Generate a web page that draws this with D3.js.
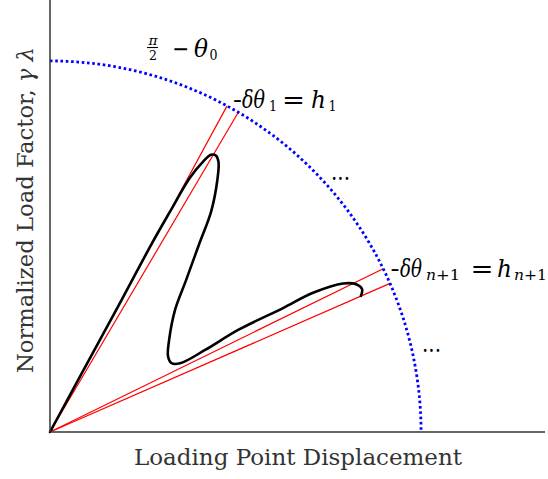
<!DOCTYPE html>
<html>
<head>
<meta charset="utf-8">
<script src="https://cdn.jsdelivr.net/npm/d3@7"></script>
<style>
  html, body { margin: 0; padding: 0; background: #fff; }
  svg { display: block; }
  text { font-family: "DejaVu Serif", "Liberation Serif", serif; }
</style>
</head>
<body>
<svg id="chart" width="548" height="479"></svg>
<script>
// ---- data (unit: radius of the arc = 1) ----
const pathU = [0, 0.092, 0.184, 0.275, 0.323, 0.377, 0.412, 0.434, 0.447, 0.454, 0.451, 0.434, 0.404, 0.367, 0.337, 0.321, 0.318, 0.327, 0.350, 0.418, 0.507, 0.628, 0.709, 0.790, 0.825, 0.841, 0.838];
const pathV = [0, 0.170, 0.339, 0.509, 0.593, 0.685, 0.728, 0.747, 0.745, 0.728, 0.679, 0.593, 0.512, 0.410, 0.329, 0.248, 0.205, 0.186, 0.185, 0.221, 0.275, 0.334, 0.375, 0.400, 0.398, 0.385, 0.367];
const rayAnglesDeg = [61.5, 59.5, 26.1, 23.6];
const arcRadius = 1;
const xDomain = [0, 1.334];
const yDomain = [0, 1.164];
const xLabel = "Loading Point Displacement";
const yLabel = "Normalized Load Factor, ";

const svg = d3.select("#chart");
const x = d3.scaleLinear().domain(xDomain).range([50, 545]);
const y = d3.scaleLinear().domain(yDomain).range([432, 0]);

// red rays
svg.append("g").selectAll("line").data(rayAnglesDeg).join("line")
  .attr("x1", x(0)).attr("y1", y(0))
  .attr("x2", d => x(arcRadius * Math.cos(d * Math.PI / 180)))
  .attr("y2", d => y(arcRadius * Math.sin(d * Math.PI / 180)))
  .attr("stroke", "#ff0000").attr("stroke-width", 1.2);

// black curve
const pts = pathU.map((u, i) => [u, pathV[i]]);
svg.append("path")
  .attr("d", d3.line().x(d => x(d[0])).y(d => y(d[1])).curve(d3.curveCatmullRom.alpha(0.5))(pts))
  .attr("fill", "none").attr("stroke", "#000").attr("stroke-width", 2.6)
  .attr("stroke-linejoin", "round").attr("stroke-linecap", "round");

// blue dotted arc
const rPx = x(arcRadius) - x(0);
const p = d3.path();
p.arc(x(0), y(0), rPx, -Math.PI / 2, 0);
svg.append("path").attr("d", p.toString())
  .attr("fill", "none").attr("stroke", "#0000ff").attr("stroke-width", 2.8)
  .attr("stroke-dasharray", "2.6,2.7");

// axes
svg.append("line").attr("x1", x(0)).attr("y1", y(yDomain[1])).attr("x2", x(0)).attr("y2", y(0))
  .attr("stroke", "#333").attr("stroke-width", 1.5);
svg.append("line").attr("x1", x(0)).attr("y1", y(0)).attr("x2", x(xDomain[1])).attr("y2", y(0))
  .attr("stroke", "#333").attr("stroke-width", 1.5);

// axis labels
svg.append("text").attr("x", 298).attr("y", 465).attr("text-anchor", "middle")
  .attr("font-size", 23).attr("fill", "#333")
  .attr("textLength", 328).attr("lengthAdjust", "spacingAndGlyphs")
  .text(xLabel);
const yl = svg.append("text").attr("transform", "translate(33,210) rotate(-90)")
  .attr("text-anchor", "middle").attr("font-size", 23).attr("fill", "#333")
  .attr("textLength", 326).attr("lengthAdjust", "spacingAndGlyphs");
yl.append("tspan").text(yLabel);
yl.append("tspan").attr("font-style", "italic").text("γ λ");

// math annotations: one <text> per label, pieces as positioned tspans
// piece: [text, x, baseline, size, italic, width]
const label = (pieces) => {
  const t = svg.append("text").attr("fill", "#000");
  pieces.forEach(([s, xx, yy, size, italic, w]) => {
    const e = t.append("tspan").attr("x", xx).attr("y", yy).attr("font-size", size).text(s);
    if (italic) e.attr("font-style", "italic");
    if (w) e.attr("textLength", w).attr("lengthAdjust", "spacingAndGlyphs");
  });
  return t;
};

// pi/2 - theta_0
label([["π", 148.5, 44.5, 13, true, 9]]);
svg.append("line").attr("x1", 147).attr("x2", 158).attr("y1", 47.5).attr("y2", 47.5)
  .attr("stroke", "#000").attr("stroke-width", 1.1);
label([["2", 149, 59.5, 13, false, 8]]);
label([["−", 172, 57, 24, false, 17], ["θ", 194, 57, 24, true, 14], ["0", 209.5, 60, 15, false, 8]]);

// -dtheta_1 = h_1
label([["-", 233, 108, 25, false, 9], ["δθ", 242, 108, 25, true, 23], ["1", 269, 111, 15, false, 8],
       ["=", 282, 108, 25, false, 23], ["h", 311, 108, 25, true, 15], ["1", 328.5, 111, 15, false, 8]]);

// -dtheta_{n+1} = h_{n+1}
label([["-", 390.5, 276.5, 25, false, 9], ["δθ", 400, 276.5, 25, true, 22],
       ["n", 426, 279.5, 15, true, 10], ["+1", 436, 279.5, 15, false, 24],
       ["=", 470.5, 276.5, 25, false, 23], ["h", 497, 276.5, 25, true, 15],
       ["n", 514, 279.5, 15, true, 10], ["+1", 524, 279.5, 15, false, 23]]);

// ellipses
label([["...", 331, 180, 24, false, 19]]);
label([["...", 422, 352, 24, false, 19]]);
</script>
</body>
</html>
